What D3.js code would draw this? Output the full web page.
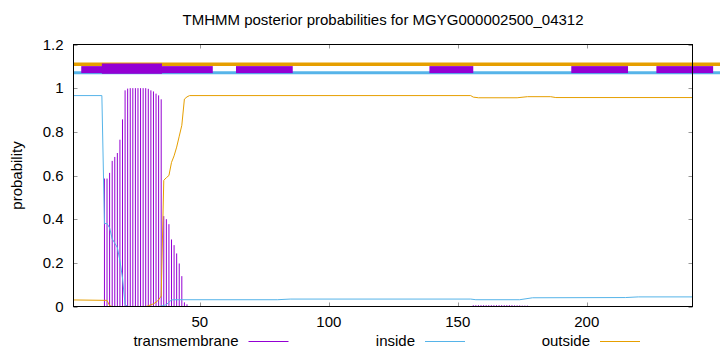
<!DOCTYPE html>
<html>
<head>
<meta charset="utf-8">
<script src="https://cdn.jsdelivr.net/npm/d3@7"></script>
<style>
  body { margin: 0; background: #fff; }
  text { font-family: "Liberation Sans", Arial, sans-serif; fill: #000; }
</style>
</head>
<body>
<div id="chart"></div>
<script>
// Data (residue, probability)
const title = "TMHMM posterior probabilities for MGYG000002500_04312";
const seqLength = 241;
const xTicks = [50, 100, 150, 200];
const yTicks = [0, 0.2, 0.4, 0.6, 0.8, 1, 1.2];

// transmembrane posterior, one impulse per residue
const tmPoints = [
  [13, 0.586], [14, 0.586], [15, 0.612], [16, 0.667], [17, 0.685], [18, 0.703],
  [19, 0.764], [20, 0.857], [21, 0.99], [22, 0.998], [23, 1.0], [24, 1.0],
  [25, 1.0], [26, 1.0], [27, 1.0], [28, 1.0], [29, 1.0], [30, 0.997],
  [31, 0.99], [32, 0.985], [33, 0.975], [34, 0.967], [35, 0.949], [36, 0.414],
  [37, 0.400], [38, 0.377], [39, 0.307], [40, 0.281], [41, 0.243], [42, 0.197],
  [43, 0.139], [44, 0.019], [45, 0.01],
  [156, 0.006], [157, 0.006], [158, 0.006], [159, 0.006], [160, 0.006], [161, 0.006],
  [162, 0.006], [163, 0.006], [164, 0.006], [165, 0.006], [166, 0.006], [167, 0.006],
  [168, 0.006], [169, 0.006], [170, 0.006], [171, 0.006], [172, 0.005], [173, 0.005],
  [174, 0.005], [175, 0.004], [176, 0.004], [177, 0.004]
];

// inside posterior (line points)
const insidePoints = [
  [1, 0.966], [12, 0.966], [13, 0.38], [14, 0.38], [15, 0.36], [16, 0.31],
  [17, 0.29], [18, 0.27], [19, 0.21], [20, 0.13], [21, 0.01], [22, 0],
  [34, 0], [35, 0.002], [36, 0.005], [37, 0.008], [38, 0.02], [39, 0.03],
  [40, 0.031], [80, 0.031], [85, 0.034], [155, 0.034], [157, 0.031], [174, 0.031],
  [179, 0.040], [215, 0.041], [220, 0.044], [241, 0.044]
];

// outside posterior (line points)
const outsidePoints = [
  [1, 0.03], [14, 0.028], [15, 0.004], [16, 0], [29, 0], [30, 0.003],
  [31, 0.008], [32, 0.012], [33, 0.02], [34, 0.03], [35, 0.048], [36, 0.578],
  [37, 0.59], [38, 0.60], [39, 0.66], [40, 0.69], [41, 0.73], [42, 0.78],
  [43, 0.83], [44, 0.95], [45, 0.96], [46, 0.966], [155, 0.966], [156, 0.959],
  [158, 0.956], [173, 0.956], [177, 0.961], [186, 0.961], [188, 0.957], [241, 0.957]
];

// topology bands above the plot: [start, end, low, high]
const outsideBand = [1, 260, 1.109];
const insideBand = [1, 260, 1.071];
const tmBoxes = [
  [4, 55, 1.069, 1.101],
  [64, 86, 1.069, 1.101],
  [139, 156, 1.069, 1.101],
  [194, 216, 1.069, 1.101],
  [227, 249, 1.069, 1.101]
];
const tmThickBoxes = [[12, 35.3, 1.066, 1.113]];

const legendItems = [
  { name: "transmembrane", color: "#9400d3", x: 238.5 },
  { name: "inside", color: "#56b4e9", x: 415 },
  { name: "outside", color: "#e69f00", x: 590 }
];

const width = 720,
    height = 352,
    margin = { top: 44.5, left: 73.5, right: 27.5, bottom: 45.5 },
    fontSize = "15px";

const x = d3.scaleLinear()
    .domain([1, seqLength])
    .range([margin.left, width - margin.right]);

const y = d3.scaleLinear()
    .domain([0, 1.2])
    .range([height - margin.bottom, margin.top]);

const svg = d3.select("#chart")
    .append("svg")
    .attr("width", width)
    .attr("height", height);

// Bands
svg.append("line")
    .attr("x1", x(outsideBand[0])).attr("x2", x(outsideBand[1]))
    .attr("y1", y(outsideBand[2])).attr("y2", y(outsideBand[2]))
    .attr("stroke", "#e69f00").attr("stroke-width", 3.5);

svg.append("line")
    .attr("x1", x(insideBand[0])).attr("x2", x(insideBand[1]))
    .attr("y1", y(insideBand[2])).attr("y2", y(insideBand[2]))
    .attr("stroke", "#56b4e9").attr("stroke-width", 3);

svg.append("g")
    .selectAll("rect")
    .data(tmBoxes.concat(tmThickBoxes))
    .join("rect")
    .attr("x", d => x(d[0]))
    .attr("width", d => x(d[1]) - x(d[0]))
    .attr("y", d => y(d[3]))
    .attr("height", d => y(d[2]) - y(d[3]))
    .attr("fill", "#9400d3");

// Impulses
svg.append("g")
    .selectAll("line")
    .data(tmPoints)
    .join("line")
    .attr("x1", d => x(d[0])).attr("x2", d => x(d[0]))
    .attr("y1", y(0)).attr("y2", d => y(d[1]))
    .attr("stroke", "#9400d3")
    .attr("stroke-width", 1);

const line = d3.line()
    .x(d => x(d[0]))
    .y(d => y(d[1]));

svg.append("path")
    .datum(insidePoints)
    .attr("d", line)
    .attr("fill", "none")
    .attr("stroke", "#56b4e9")
    .attr("stroke-width", 1);

svg.append("path")
    .datum(outsidePoints)
    .attr("d", line)
    .attr("fill", "none")
    .attr("stroke", "#e69f00")
    .attr("stroke-width", 1);

// Ticks (inward, mirrored)
const tickLen = 4;
const ticks = svg.append("g").attr("stroke", "#999").attr("stroke-width", 1);
yTicks.forEach(t => {
    const yy = Math.round(y(t)) + 0.5;
    ticks.append("line").attr("x1", x.range()[0]).attr("x2", x.range()[0] + tickLen).attr("y1", yy).attr("y2", yy);
    ticks.append("line").attr("x1", x.range()[1]).attr("x2", x.range()[1] - tickLen).attr("y1", yy).attr("y2", yy);
});
xTicks.forEach(t => {
    const xx = Math.round(x(t)) + 0.5;
    ticks.append("line").attr("x1", xx).attr("x2", xx).attr("y1", y.range()[0]).attr("y2", y.range()[0] - tickLen);
    ticks.append("line").attr("x1", xx).attr("x2", xx).attr("y1", y.range()[1]).attr("y2", y.range()[1] + tickLen);
});

// Border
svg.append("rect")
    .attr("x", x.range()[0])
    .attr("y", y.range()[1])
    .attr("width", x.range()[1] - x.range()[0])
    .attr("height", y.range()[0] - y.range()[1])
    .attr("fill", "none")
    .attr("stroke", "#000")
    .attr("stroke-width", 1);

// Tick labels
svg.append("g")
    .selectAll("text")
    .data(yTicks)
    .join("text")
    .attr("x", 63.5)
    .attr("y", d => y(d))
    .attr("dy", "0.35em")
    .attr("text-anchor", "end")
    .style("font-size", fontSize)
    .text(d => d3.format("")(d));

svg.append("g")
    .selectAll("text")
    .data(xTicks)
    .join("text")
    .attr("x", d => x(d))
    .attr("y", 322)
    .attr("dy", "0.35em")
    .attr("text-anchor", "middle")
    .style("font-size", fontSize)
    .text(d => d);

// Title and axis label
svg.append("text")
    .attr("x", (x.range()[0] + x.range()[1]) / 2)
    .attr("y", 20)
    .attr("dy", "0.35em")
    .attr("text-anchor", "middle")
    .style("font-size", fontSize)
    .text(title);

svg.append("text")
    .attr("transform", "translate(17," + ((y.range()[0] + y.range()[1]) / 2) + ") rotate(-90)")
    .attr("dy", "0.35em")
    .attr("text-anchor", "middle")
    .style("font-size", fontSize)
    .text("probability");

// Legend
const legend = svg.append("g");
legendItems.forEach(d => {
    legend.append("text")
        .attr("x", d.x)
        .attr("y", 341)
        .attr("dy", "0.35em")
        .attr("text-anchor", "end")
        .style("font-size", fontSize)
        .text(d.name);
    legend.append("line")
        .attr("x1", d.x + 10).attr("x2", d.x + 50)
        .attr("y1", 341.5).attr("y2", 341.5)
        .attr("stroke", d.color)
        .attr("stroke-width", 1);
});
</script>
</body>
</html>
